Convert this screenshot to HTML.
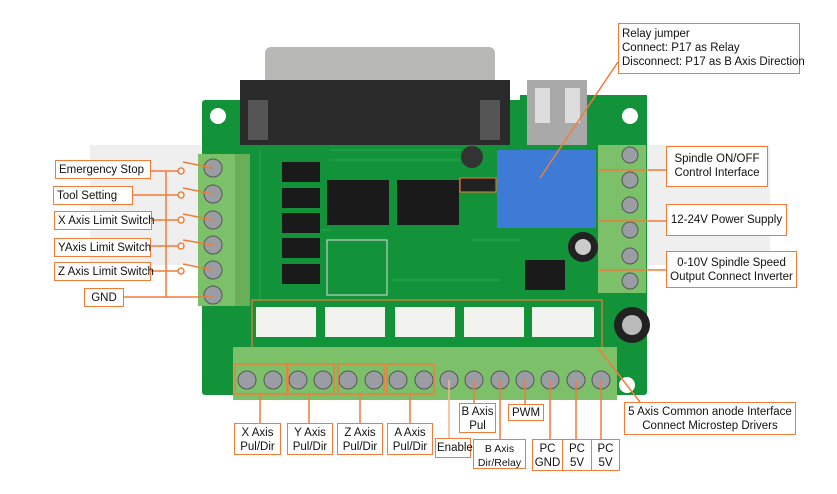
<!DOCTYPE html><html><head><style>
body{margin:0;width:837px;height:494px;background:#fff;position:relative;overflow:hidden;font-family:"Liberation Sans",sans-serif}
.b{position:absolute;border:1.5px solid #f07c3a;background:#fff;font-size:11.5px;color:#111;box-sizing:border-box;line-height:14px;white-space:nowrap}
.c{text-align:center}
</style></head><body>
<svg width="837" height="494" style="position:absolute;left:0;top:0">
<rect x="90" y="145" width="680" height="120" fill="#efefef"/>
<!-- board -->
<rect x="202" y="100" width="445" height="295" rx="3" fill="#12933a"/>
<rect x="520" y="95" width="127" height="10" fill="#12933a"/>
<g stroke="#2db352" stroke-width="1" fill="none" opacity="0.7">
<path d="M330 150H460M330 160H460M300 230H330M470 240H520M390 280H500M260 150V300"/>
</g>
<circle cx="218" cy="116" r="8" fill="#fff"/><circle cx="630" cy="116" r="8" fill="#fff"/>
<circle cx="627" cy="385" r="8" fill="#fff"/>
<!-- DB25 -->
<rect x="265" y="47" width="230" height="38" rx="6" fill="#b8b8b4"/>
<rect x="240" y="80" width="270" height="65" fill="#2a2a2a"/>
<rect x="248" y="100" width="20" height="40" fill="#555"/><rect x="480" y="100" width="20" height="40" fill="#555"/>
<!-- USB -->
<rect x="527" y="80" width="60" height="65" fill="#a9a9a9"/>
<rect x="535" y="88" width="15" height="35" fill="#ddd"/><rect x="565" y="88" width="15" height="35" fill="#ddd"/>
<!-- chips -->
<g fill="#1a1a1a">
<rect x="282" y="162" width="38" height="20"/><rect x="282" y="188" width="38" height="20"/><rect x="282" y="213" width="38" height="20"/><rect x="282" y="238" width="38" height="20"/><rect x="282" y="264" width="38" height="20"/>
<rect x="327" y="180" width="62" height="45"/><rect x="397" y="180" width="62" height="45"/>
<rect x="525" y="260" width="40" height="30"/>
</g>
<rect x="327" y="240" width="60" height="55" fill="none" stroke="#ddd" stroke-width="1"/>
<!-- relay -->
<rect x="497" y="150" width="99" height="78" fill="#3d7bd6"/>
<rect x="460" y="178" width="36" height="14" fill="#222" stroke="#f07c3a"/>
<circle cx="472" cy="157" r="11" fill="#333"/>
<circle cx="583" cy="247" r="15" fill="#222"/><circle cx="583" cy="247" r="8" fill="#ccc"/>
<circle cx="632" cy="325" r="18" fill="#222"/><circle cx="632" cy="325" r="10" fill="#bbb"/>
<!-- left terminal -->
<rect x="198" y="154" width="52" height="152" fill="#7cc06a"/>
<rect x="235" y="154" width="15" height="152" fill="#6aae59"/>
<g fill="#9a9ea4" stroke="#555"><circle cx="213" cy="168" r="9"/><circle cx="213" cy="194" r="9"/><circle cx="213" cy="220" r="9"/><circle cx="213" cy="245" r="9"/><circle cx="213" cy="270" r="9"/><circle cx="213" cy="295" r="9"/></g>
<!-- right terminal -->
<rect x="598" y="145" width="48" height="148" fill="#7cc06a"/>
<g fill="#9a9ea4" stroke="#555"><circle cx="630" cy="155" r="8"/><circle cx="630" cy="180" r="8"/><circle cx="630" cy="205" r="8"/><circle cx="630" cy="230" r="8"/><circle cx="630" cy="256" r="8"/><circle cx="630" cy="281" r="8"/></g>
<!-- white connectors -->
<rect x="252" y="300" width="350" height="48" fill="none" stroke="#f07c3a" stroke-width="1.2"/>
<g fill="#f2f2ee"><rect x="256" y="307" width="60" height="30"/><rect x="325" y="307" width="60" height="30"/><rect x="395" y="307" width="60" height="30"/><rect x="464" y="307" width="60" height="30"/><rect x="532" y="307" width="62" height="30"/></g>
<!-- bottom terminal -->
<rect x="233" y="347" width="384" height="53" fill="#7cc06a"/>
<g fill="#9a9ea4" stroke="#555">
<circle cx="247" cy="380" r="9"/><circle cx="273" cy="380" r="9"/><circle cx="298" cy="380" r="9"/><circle cx="323" cy="380" r="9"/><circle cx="348" cy="380" r="9"/><circle cx="374" cy="380" r="9"/><circle cx="398" cy="380" r="9"/><circle cx="424" cy="380" r="9"/><circle cx="449" cy="380" r="9"/><circle cx="474" cy="380" r="9"/><circle cx="500" cy="380" r="9"/><circle cx="525" cy="380" r="9"/><circle cx="550" cy="380" r="9"/><circle cx="576" cy="380" r="9"/><circle cx="601" cy="380" r="9"/></g>
<g fill="none" stroke="#f07c3a" stroke-width="1.5">
<rect x="235" y="364" width="52" height="30"/><rect x="288" y="364" width="46" height="30"/><rect x="338" y="364" width="46" height="30"/><rect x="387" y="364" width="47" height="30"/>
<path d="M260 394V423M309 394V423M360 394V423M410 394V423M474 380V403M525 380V404M500 380V439M550 380V439M576 380V439M601 380V439"/>
<path d="M150 171H181M132 195H181M151 220H181M151 246H181M151 271H181M123 297H213M166 171V297"/>
<path d="M183 162L213 168M183 188L213 194M183 214L213 220M183 240L213 245M183 264L213 270"/>
<path d="M618 62L540 178M598 170H666M598 221H666M598 270H666M598 348L640 402"/>
</g>
<path d="M449 380V440" stroke="#f5b48a" stroke-width="1.5"/>
<g fill="#fff" stroke="#f07c3a" stroke-width="1.5"><circle cx="181" cy="171" r="3"/><circle cx="181" cy="195" r="3"/><circle cx="181" cy="220" r="3"/><circle cx="181" cy="246" r="3"/><circle cx="181" cy="271" r="3"/></g>
</svg>
<div class="b" style="left:55px;top:160px;width:96px;height:19px;padding:2px 3px">Emergency Stop</div>
<div class="b" style="left:53px;top:186px;width:80px;height:19px;padding:2px 3px">Tool Setting</div>
<div class="b" style="left:54px;top:211px;width:98px;height:19px;padding:2px 3px">X Axis Limit Switch</div>
<div class="b" style="left:54px;top:238px;width:97px;height:19px;padding:2px 3px">YAxis Limit Switch</div>
<div class="b" style="left:54px;top:262px;width:97px;height:19px;padding:2px 3px">Z Axis Limit Switch</div>
<div class="b c" style="left:84px;top:288px;width:40px;height:19px;padding-top:2px">GND</div>
<div class="b" style="left:618px;top:23px;width:182px;height:51px;padding:3px 3px">Relay jumper<br>Connect: P17 as Relay<br>Disconnect: P17 as B Axis Direction</div>
<div class="b c" style="left:666px;top:146px;width:102px;height:41px;padding-top:5px">Spindle ON/OFF<br>Control Interface</div>
<div class="b c" style="left:666px;top:204px;width:121px;height:32px;padding-top:8px">12-24V Power Supply</div>
<div class="b c" style="left:666px;top:251px;width:131px;height:37px;padding-top:4px">0-10V Spindle Speed<br>Output Connect Inverter</div>
<div class="b c" style="left:624px;top:402px;width:172px;height:33px;padding-top:2px">5 Axis Common anode Interface<br>Connect Microstep Drivers</div>
<div class="b c" style="left:234px;top:423px;width:47px;height:32px;padding-top:2px">X Axis<br>Pul/Dir</div>
<div class="b c" style="left:287px;top:423px;width:46px;height:32px;padding-top:2px">Y Axis<br>Pul/Dir</div>
<div class="b c" style="left:337px;top:423px;width:46px;height:32px;padding-top:2px">Z Axis<br>Pul/Dir</div>
<div class="b c" style="left:387px;top:423px;width:46px;height:32px;padding-top:2px">A Axis<br>Pul/Dir</div>
<div class="b" style="left:435px;top:438px;width:36px;height:20px;padding:2px 1px">Enable</div>
<div class="b c" style="left:459px;top:403px;width:37px;height:30px;padding-top:1px">B Axis<br>Pul</div>
<div class="b c" style="left:508px;top:404px;width:36px;height:17px;padding-top:1px">PWM</div>
<div class="b c" style="left:473px;top:439px;width:53px;height:30px;padding-top:2px;font-size:10.5px">B Axis<br>Dir/Relay</div>
<div class="b c" style="left:532px;top:439px;width:31px;height:32px;padding-top:2px">PC<br>GND</div>
<div class="b c" style="left:562px;top:439px;width:30px;height:32px;padding-top:2px">PC<br>5V</div>
<div class="b c" style="left:591px;top:439px;width:29px;height:32px;padding-top:2px">PC<br>5V</div>
</body></html>
